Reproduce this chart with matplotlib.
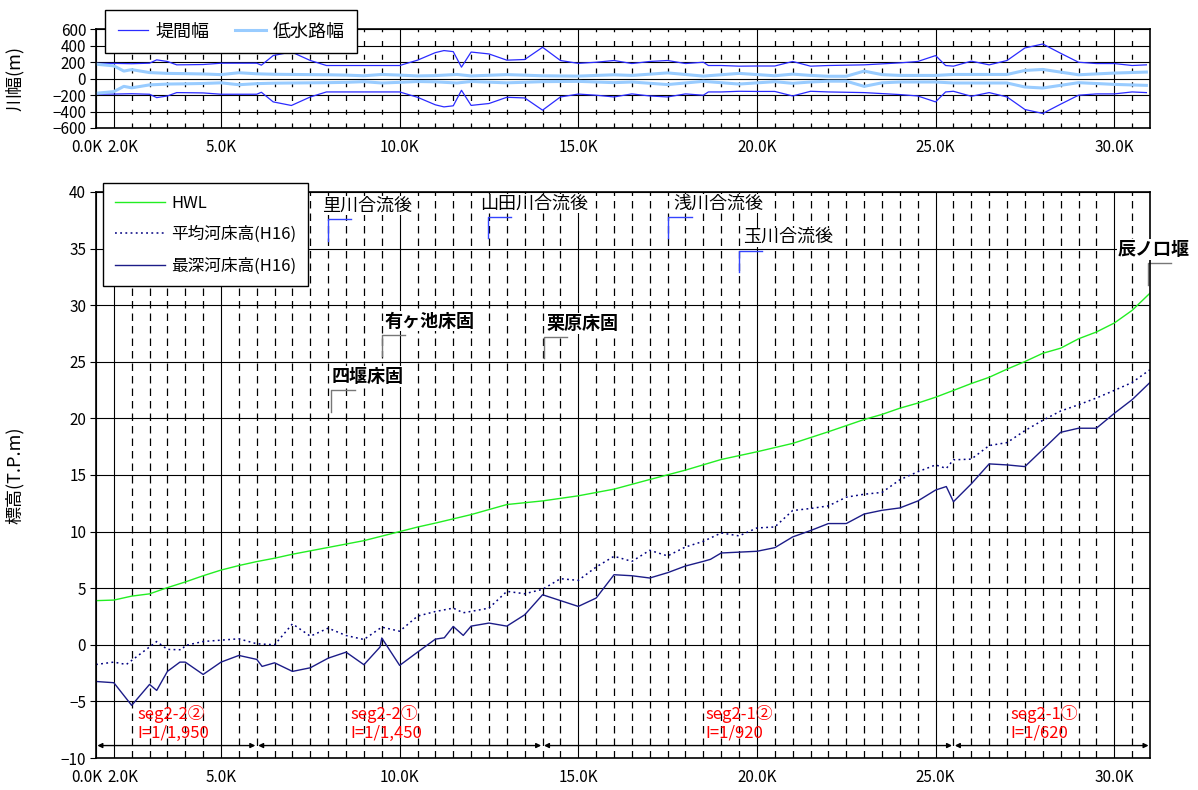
import numpy as np
import matplotlib
matplotlib.use("Agg")
from matplotlib import pyplot as plt
from matplotlib.transforms import ScaledTranslation

plt.rcParams['font.family'] = ['Noto Sans CJK JP', 'DejaVu Sans']

# ---- top panel: half widths (m), plotted as +/- around the centre line
levee_km = [1.5, 2.0, 2.5, 3.0, 3.2, 3.5, 3.76, 4.0, 4.5, 5.0,
            5.5, 6.0, 6.13, 6.46, 6.97, 7.5, 7.95, 8.5, 9.0, 9.5,
            10.0, 10.5, 11.0, 11.24, 11.5, 11.73, 12.0, 12.5, 13.0, 13.5,
            14.0, 14.5, 15.0, 15.5, 16.0, 16.5, 17.0, 17.5, 18.0, 18.5,
            18.64, 19.0, 19.5, 20.0, 20.5, 21.0, 21.5, 22.0, 23.0, 24.0,
            24.5, 25.0, 25.28, 25.5, 26.0, 26.5, 27.0, 27.5, 28.0, 28.5,
            29.0, 29.5, 30.0, 30.5, 30.9]
levee_half = [187, 187, 183, 189, 230, 210, 169, 170, 173, 189,
              189, 189, 165, 282, 326, 222, 161, 161, 161, 161,
              161, 226, 318, 343, 330, 141, 325, 302, 226, 234,
              383, 222, 187, 201, 222, 185, 210, 222, 185, 201,
              161, 161, 153, 155, 155, 210, 153, 161, 169, 193,
              210, 282, 161, 153, 214, 169, 222, 375, 423, 310,
              201, 185, 185, 161, 169]

low_km = [1.5, 2.0, 2.28, 2.5, 3.0, 3.5, 4.0, 4.5, 5.0, 5.5,
          6.0, 6.5, 7.0, 7.5, 8.0, 8.5, 9.0, 9.5, 10.0, 10.5,
          11.0, 11.6, 12.0, 13.0, 14.0, 15.0, 16.0, 16.5, 17.5, 18.5,
          19.5, 20.5, 21.0, 21.5, 22.0, 22.5, 23.0, 23.5, 24.0, 25.0,
          25.5, 27.0, 27.5, 28.0, 29.0, 30.0, 30.9]
low_half = [177, 157, 93, 111, 75, 65, 62, 58, 50, 73,
            60, 54, 52, 50, 48, 44, 36, 52, 44, 34,
            38, 52, 34, 50, 36, 32, 48, 40, 71, 32,
            65, 36, 56, 40, 30, 30, 93, 50, 40, 40,
            52, 52, 101, 113, 48, 69, 81]

# ---- bottom panel: elevations (T.P.m)
hwl_km = [1.5, 2.0, 2.5, 3.0, 3.5, 4.0, 4.5, 5.0, 5.5, 6.0,
          6.5, 7.0, 7.5, 8.0, 8.5, 9.0, 9.5, 10.0, 10.5, 11.0,
          12.0, 13.0, 14.0, 15.0, 16.0, 17.0, 18.0, 19.0, 20.0, 21.0,
          22.0, 23.0, 23.5, 24.0, 24.5, 25.0, 25.5, 26.0, 26.5, 27.0,
          27.5, 28.0, 28.5, 29.0, 29.5, 30.0, 30.5, 31.0]
hwl = [3.9, 3.95, 4.3, 4.5, 5.05, 5.55, 6.1, 6.6, 7.0, 7.35,
       7.65, 8.0, 8.3, 8.6, 8.9, 9.2, 9.6, 10.0, 10.4, 10.75,
       11.5, 12.39, 12.71, 13.16, 13.75, 14.6, 15.43, 16.37, 17.05, 17.79,
       18.82, 19.9, 20.35, 20.9, 21.35, 21.87, 22.47, 23.08, 23.63, 24.35,
       25.02, 25.75, 26.2, 27.03, 27.63, 28.42, 29.54, 31.06]

mean_km = [1.5, 2.0, 2.35, 3.2, 3.5, 3.9, 4.0, 4.5, 5.5, 6.0,
           6.5, 7.0, 7.5, 8.0, 8.5, 9.0, 9.5, 10.0, 10.5, 11.0,
           11.5, 11.78, 12.0, 12.5, 13.0, 13.5, 14.0, 14.5, 15.0, 15.5,
           16.0, 16.5, 17.0, 17.5, 18.0, 18.5, 19.0, 19.5, 20.0, 20.5,
           21.0, 21.5, 22.0, 22.5, 23.0, 23.5, 24.0, 24.5, 25.0, 25.3,
           25.5, 26.0, 26.5, 27.0, 27.5, 28.0, 28.5, 29.0, 29.5, 30.0,
           30.5, 31.0]
mean_bed = [-1.74, -1.53, -1.74, 0.29, -0.41, -0.44, -0.06, 0.29, 0.53, 0.09,
            0.0, 1.85, 0.76, 1.47, 0.82, 0.47, 1.56, 1.2, 2.53, 2.94,
            3.24, 2.83, 2.95, 3.24, 4.72, 4.51, 4.9, 5.84, 5.69, 6.87,
            7.82, 7.37, 8.35, 7.85, 8.64, 9.14, 9.88, 9.62, 10.32, 10.41,
            11.86, 12.04, 12.27, 13.04, 13.3, 13.46, 14.58, 15.28, 15.89, 15.58,
            16.34, 16.4, 17.6, 17.86, 18.92, 19.83, 20.65, 21.2, 21.8, 22.47,
            23.17, 24.3]

deep_km = [1.5, 2.0, 2.5, 3.0, 3.2, 3.5, 3.85, 4.0, 4.5, 5.0,
           5.5, 6.0, 6.15, 6.5, 7.0, 7.5, 8.0, 8.5, 9.0, 9.45,
           9.5, 10.0, 10.5, 11.0, 11.25, 11.5, 11.78, 12.0, 12.5, 13.0,
           13.5, 14.0, 15.0, 15.5, 16.0, 16.5, 17.0, 17.5, 18.0, 18.5,
           18.7, 19.0, 20.0, 20.5, 21.0, 21.5, 22.0, 22.5, 23.0, 23.5,
           24.0, 24.5, 25.0, 25.3, 25.5, 26.0, 26.5, 27.0, 27.5, 28.0,
           28.5, 29.0, 29.5, 30.0, 30.5, 31.0]
deep_bed = [-3.24, -3.35, -5.35, -3.5, -4.03, -2.35, -1.53, -1.53, -2.62, -1.53,
            -0.94, -1.29, -1.91, -1.59, -2.35, -2.03, -1.18, -0.65, -1.76, -0.2,
            0.6, -1.82, -0.65, 0.5, 0.62, 1.62, 0.83, 1.65, 1.92, 1.65,
            2.65, 4.42, 3.39, 4.13, 6.19, 6.1, 5.9, 6.37, 6.96, 7.37,
            7.55, 8.11, 8.26, 8.58, 9.53, 10.09, 10.71, 10.71, 11.55, 11.88,
            12.09, 12.7, 13.67, 13.98, 12.64, 14.22, 15.98, 15.89, 15.74, 17.25,
            18.77, 19.13, 19.13, 20.44, 21.65, 23.17]

# segments (km boundaries) and their labels
seg_bounds = [1.5, 6.0, 14.0, 25.5, 31.0]
seg_labels = ["seg2-2②\nI=1/1,950", "seg2-2①\nI=1/1,450",
              "seg2-1②\nI=1/920", "seg2-1①\nI=1/620"]
seg_label_km = [2.65, 8.63, 18.56, 27.1]

# (text, bracket km, bracket bottom, text km, is structure)
notes = [
    ("里川合流後", 8.0, 35.7, 7.83, False),
    ("山田川合流後", 12.47, 35.9, 12.24, False),
    ("浅川合流後", 17.52, 35.9, 17.65, False),
    ("玉川合流後", 19.5, 32.9, 19.6, False),
    ("辰ノ口堰", 30.95, 31.8, 30.09, True),
    ("有ヶ池床固", 9.5, 25.5, 9.58, True),
    ("栗原床固", 14.03, 25.3, 14.1, True),
    ("四堰床固", 8.09, 20.6, 8.1, True),
]

xtick_pos = [1.5, 2, 5, 10, 15, 20, 25, 30]
xtick_labels = ["0.0K", "2.0K", "5.0K", "10.0K", "15.0K", "20.0K", "25.0K", "30.0K"]


def setup_axes(ax, fig, dash):
    ax.set_xlim(1.5, 31.0)
    ax.set_xticks(xtick_pos)
    ax.set_xticklabels(xtick_labels)
    ax.set_xticks(np.arange(2.5, 31.0, 0.5), minor=True)
    ax.set_axisbelow(True)
    ax.grid(which='major', axis='both', color='black', lw=0.8)
    ax.grid(which='minor', axis='x', color='black', lw=0.9, linestyle=dash)
    ax.tick_params(axis='x', which='both', length=0, pad=8, labelsize=11)
    ax.tick_params(axis='y', length=4, direction='out', pad=3, labelsize=11)
    for sp in ax.spines.values():
        sp.set_linewidth(1.2)
    for lab, dx in zip(ax.get_xticklabels()[:2], (-9, 9)):
        lab.set_transform(lab.get_transform() + ScaledTranslation(dx / 100, 0, fig.dpi_scale_trans))


fig = plt.figure(figsize=(11.98, 7.90), dpi=100)
ax1 = fig.add_axes([0.0801, 0.838, 0.8798, 0.1247])
ax2 = fig.add_axes([0.0801, 0.0405, 0.8798, 0.7165])

# ---- top: river width
setup_axes(ax1, fig, (0, (4, 7)))
ax1.set_ylim(-600, 600)
ax1.set_yticks(np.arange(-600, 601, 200))
lv = np.array(levee_half)
lw_ = np.array(low_half)
l1, = ax1.plot(levee_km, lv, color='#2b2bff', lw=0.9, label='堤間幅')
ax1.plot(levee_km, -lv, color='#2b2bff', lw=0.9)
l2, = ax1.plot(low_km, lw_, color='#99ccff', lw=2.2, label='低水路幅')
ax1.plot(low_km, -lw_, color='#99ccff', lw=2.2)
ax1.set_ylabel('川幅(m)', fontsize=13)
ax1.yaxis.set_label_coords(-0.068, 0.5)
leg1 = ax1.legend(handles=[l1, l2], ncol=2, loc='upper left',
                  bbox_to_anchor=(105 / 1198, 1 - 10 / 790), bbox_transform=fig.transFigure,
                  fancybox=False, edgecolor='black', framealpha=1, fontsize=13,
                  handlelength=1.7, handletextpad=0.4, columnspacing=1.4,
                  borderpad=0.7, borderaxespad=0)
leg1.get_frame().set_linewidth(1.0)

# ---- bottom: longitudinal profile
setup_axes(ax2, fig, (0, (6, 4)))
ax2.set_ylim(-10, 40)
ax2.set_yticks(np.arange(-10, 41, 5))
h1, = ax2.plot(hwl_km, hwl, color='#22ee22', lw=1.0, label='HWL')
h2, = ax2.plot(mean_km, mean_bed, color='#000080', lw=1.1, linestyle=(0, (1.2, 2.2)), label='平均河床高(H16)')
h3, = ax2.plot(deep_km, deep_bed, color='#1c1c88', lw=1.0, label='最深河床高(H16)')
ax2.set_ylabel('標高(T.P.m)', fontsize=13)
ax2.yaxis.set_label_coords(-0.068, 0.5)
leg2 = ax2.legend(handles=[h1, h2, h3], loc='upper left',
                  bbox_to_anchor=(103 / 1198, 1 - 183 / 790), bbox_transform=fig.transFigure,
                  fancybox=False, edgecolor='black', framealpha=1, fontsize=12,
                  handlelength=3.0, handletextpad=0.4, labelspacing=0.85,
                  borderpad=0.7, borderaxespad=0)
leg2.get_frame().set_linewidth(1.0)

for text, bx, by, tx, structure in notes:
    col = '#777777' if structure else '#3344ff'
    ax2.plot([bx, bx, bx + 0.65], [by, by + 1.9, by + 1.9], color=col, lw=1.0, clip_on=False)
    ax2.text(tx, by + 1.9 + 1.2, text, fontsize=13, fontweight='bold' if structure else 'normal',
             ha='left', va='center', clip_on=False,
             bbox=dict(facecolor='white', edgecolor='none', pad=0.5))

for k in range(len(seg_labels)):
    ax2.annotate('', xy=(seg_bounds[k + 1], -8.9), xytext=(seg_bounds[k], -8.9),
                 arrowprops=dict(arrowstyle='<|-|>', color='black', lw=1.0,
                                 mutation_scale=7, shrinkA=1, shrinkB=1))
    ax2.text(seg_label_km[k], -5.35, seg_labels[k], color='red', fontsize=12,
             ha='left', va='top', linespacing=1.1)

fig.savefig('out.png', dpi=100)
